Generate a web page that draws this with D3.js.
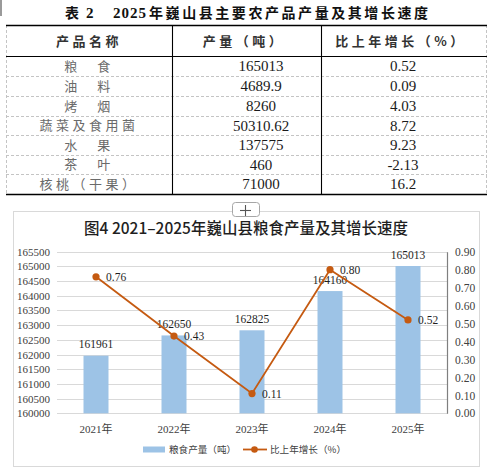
<!DOCTYPE html>
<html><head><meta charset="utf-8">
<script src="https://cdn.jsdelivr.net/npm/d3@7"></script>
<style>
html,body{margin:0;padding:0;background:#fff;}
svg{display:block;}
</style></head>
<body>
<script>
// ---- Table data ----
const tableHeaders = ["产品名称", "产量（吨）", "比上年增长（%）"];
const products = ["粮　食", "油　料", "烤　烟", "蔬菜及食用菌", "水　果", "茶　叶", "核桃（干果）"];
const outputs = ["165013", "4689.9", "8260", "50310.62", "137575", "460", "71000"];
const growths = ["0.52", "0.09", "4.03", "8.72", "9.23", "-2.13", "16.2"];

// ---- Chart data ----
const chartTitle = "图4 2021–2025年巍山县粮食产量及其增长速度";
const years = ["2021年", "2022年", "2023年", "2024年", "2025年"];
const grainOutput = [161961, 162650, 162825, 164160, 165013];
const growthRate = [0.76, 0.43, 0.11, 0.80, 0.52];
const leftTicks = [160000,160500,161000,161500,162000,162500,163000,163500,164000,164500,165000,165500];
const rightTicks = [0,0.1,0.2,0.3,0.4,0.5,0.6,0.7,0.8,0.9];
const legendLabels = ["粮食产量（吨）", "比上年增长（%）"];

const W = 491, H = 474;
const serif = "'Liberation Serif','Times New Roman',serif";
const cjk = "'Noto Sans CJK SC','Noto Sans',sans-serif";
const mixed = "'Liberation Serif','Noto Sans CJK SC',serif";

const svg = d3.select("body").append("svg").attr("width", W).attr("height", H);

// small mark top-left
svg.append("rect").attr("x",0).attr("y",0).attr("width",2).attr("height",16).attr("fill","#9a9a9a");

// ---------- TABLE ----------
const tL = 6, tR = 487, tTop = 25, tHead = 56, tBot = 194;
const colX = [tL, 172, 321, tR];
const rowY = [56, 76, 96, 116, 135, 155, 174, 194];

// title
const tg = svg.append("g").attr("font-weight", 700).attr("fill", "#111");
tg.append("text").attr("x",65).attr("y",18).attr("font-family",cjk).attr("font-size",14).text("表");
tg.append("text").attr("x",86).attr("y",18).attr("font-family",serif).attr("font-size",15).text("2");
tg.append("text").attr("x",113).attr("y",18).attr("font-family",serif).attr("font-size",15).attr("letter-spacing",1).text("2025");
tg.append("text").attr("x",149).attr("y",18).attr("font-family",cjk).attr("font-size",14)
  .attr("textLength",279).attr("lengthAdjust","spacing").text("年巍山县主要农产品产量及其增长速度");

// dashed lines
const dash = svg.append("g").attr("stroke","#c4c4c4").attr("stroke-width",1).attr("stroke-dasharray","3,2").attr("fill","none");
rowY.slice(1, rowY.length-1).forEach(y => dash.append("line").attr("x1",tL).attr("x2",tR).attr("y1",y+0.5).attr("y2",y+0.5));
dash.append("line").attr("x1",tL+0.5).attr("x2",tL+0.5).attr("y1",tTop).attr("y2",tBot);
dash.append("line").attr("x1",tR-0.5).attr("x2",tR-0.5).attr("y1",tTop).attr("y2",tBot);

// solid lines
const solid = svg.append("g").attr("stroke","#000").attr("fill","none");
solid.append("line").attr("x1",tL).attr("x2",tR).attr("y1",tTop+0.5).attr("y2",tTop+0.5).attr("stroke-width",1.6);
solid.append("line").attr("x1",tL).attr("x2",tR).attr("y1",tHead+0.5).attr("y2",tHead+0.5).attr("stroke-width",1.2);
solid.append("line").attr("x1",tL).attr("x2",tR).attr("y1",tBot+0.5).attr("y2",tBot+0.5).attr("stroke-width",1.6);
[colX[1], colX[2]].forEach(x => solid.append("line").attr("x1",x+0.5).attr("x2",x+0.5).attr("y1",tTop).attr("y2",tBot).attr("stroke-width",1.1));

// headers
const headCx = [89, 244, 401];
tableHeaders.forEach((h,i) => {
  svg.append("text").attr("x",headCx[i]).attr("y",46).attr("text-anchor","middle")
    .attr("font-family",cjk).attr("font-size",13).attr("font-weight",700).attr("fill","#333")
    .attr("letter-spacing",3.5).text(h);
});

// rows
products.forEach((p,i) => {
  const cy = (rowY[i] + rowY[i+1]) / 2;
  svg.append("text").attr("x",89).attr("y",cy+4.5).attr("text-anchor","middle")
    .attr("font-family",cjk).attr("font-size",13).attr("fill","#6a6a6a").attr("letter-spacing",3.5).text(p);
  svg.append("text").attr("x",261).attr("y",cy+5).attr("text-anchor","middle")
    .attr("font-family",serif).attr("font-size",15).attr("fill","#1a1a1a").text(outputs[i]);
  svg.append("text").attr("x",403).attr("y",cy+5).attr("text-anchor","middle")
    .attr("font-family",serif).attr("font-size",15).attr("fill","#1a1a1a").text(growths[i]);
});

// ---------- CHART ----------
svg.append("rect").attr("x",13.5).attr("y",211.5).attr("width",466).attr("height",255)
  .attr("fill","#fff").attr("stroke","#d9d9d9").attr("stroke-width",1);

// plus button (icon)
svg.append("rect").attr("x",232.5).attr("y",202.5).attr("width",27).attr("height",14).attr("rx",3)
  .attr("fill","#fff").attr("stroke","#a6a6a6");
const plus = svg.append("g").attr("stroke","#555").attr("stroke-width",1.1);
plus.append("line").attr("x1",240).attr("x2",251).attr("y1",210.5).attr("y2",210.5);
plus.append("line").attr("x1",245.5).attr("x2",245.5).attr("y1",205).attr("y2",216);

svg.append("text").attr("x",246).attr("y",234).attr("text-anchor","middle")
  .attr("font-family",cjk).attr("font-size",15.5).attr("font-weight",500).attr("fill","#1f1f1f").text(chartTitle);

const pL = 57, pR = 447, pTop = 251.7, pBot = 413.3;
const x = d3.scaleBand().domain(years).range([pL, pR]);
const yL = d3.scaleLinear().domain([160000, 165500]).range([pBot, pTop]);
const yR = d3.scaleLinear().domain([0, 0.9]).range([pBot, pTop]);

// grid
svg.append("g").selectAll("line").data(leftTicks).join("line")
  .attr("x1",pL).attr("x2",pR).attr("y1",d=>Math.round(yL(d))+0.5).attr("y2",d=>Math.round(yL(d))+0.5)
  .attr("stroke","#d9d9d9").attr("stroke-width",1);

// left axis labels
const axL = svg.append("g").attr("transform",`translate(${pL-6},0)`)
  .call(d3.axisLeft(yL).tickValues(leftTicks).tickSize(0).tickPadding(1).tickFormat(d3.format("d")));
axL.select(".domain").remove();
axL.selectAll("text").attr("font-family",serif).attr("font-size",11).attr("fill","#404040");

// right axis
const axR = svg.append("g").attr("transform",`translate(${pR},0)`)
  .call(d3.axisRight(yR).tickValues(rightTicks).tickSize(0).tickPadding(8).tickFormat(d3.format(".2f")));
axR.select(".domain").attr("stroke","#7f7f7f").attr("stroke-width",1.2);
axR.selectAll("text").attr("font-family",serif).attr("font-size",11.5).attr("fill","#404040");

// x axis labels
const axX = svg.append("g").attr("transform",`translate(0,${pBot})`)
  .call(d3.axisBottom(x).tickSize(0).tickPadding(12));
axX.select(".domain").remove();
axX.selectAll("text").attr("font-family",mixed).attr("font-size",11).attr("fill","#404040");

// bars
const bw = 25;
svg.append("g").selectAll("rect").data(grainOutput).join("rect")
  .attr("x",(d,i)=>x(years[i])+x.bandwidth()/2-bw/2).attr("width",bw)
  .attr("y",d=>yL(d)).attr("height",d=>pBot-yL(d)).attr("fill","#9dc3e6");

svg.append("g").selectAll("text").data(grainOutput).join("text")
  .attr("x",(d,i)=>x(years[i])+x.bandwidth()/2).attr("y",d=>yL(d)-7.5)
  .attr("text-anchor","middle").attr("font-family",serif).attr("font-size",11.5).attr("fill","#1f1f1f").text(d=>d);

// line
const lineColor = "#c55a11";
const line = d3.line().x((d,i)=>x(years[i])+x.bandwidth()/2).y(d=>yR(d));
svg.append("path").datum(growthRate).attr("d",line).attr("fill","none").attr("stroke",lineColor).attr("stroke-width",1.8);
svg.append("g").selectAll("circle").data(growthRate).join("circle")
  .attr("cx",(d,i)=>x(years[i])+x.bandwidth()/2).attr("cy",d=>yR(d)).attr("r",3.6).attr("fill",lineColor);
svg.append("g").selectAll("text").data(growthRate).join("text")
  .attr("x",(d,i)=>x(years[i])+x.bandwidth()/2+10).attr("y",d=>yR(d)+4)
  .attr("font-family",serif).attr("font-size",11.5).attr("fill","#1f1f1f").text(d=>d.toFixed(2));

// legend
const lg = svg.append("g");
lg.append("rect").attr("x",143).attr("y",446.5).attr("width",22).attr("height",6).attr("fill","#9dc3e6");
lg.append("text").attr("x",169).attr("y",453).attr("font-family",cjk).attr("font-size",9.6).attr("fill","#404040").text(legendLabels[0]);
lg.append("line").attr("x1",243).attr("x2",267).attr("y1",449.5).attr("y2",449.5).attr("stroke",lineColor).attr("stroke-width",1.8);
lg.append("circle").attr("cx",254.5).attr("cy",449.5).attr("r",3.3).attr("fill",lineColor);
lg.append("text").attr("x",270).attr("y",453).attr("font-family",cjk).attr("font-size",9.6).attr("fill","#404040").text(legendLabels[1]);
</script>
</body></html>
